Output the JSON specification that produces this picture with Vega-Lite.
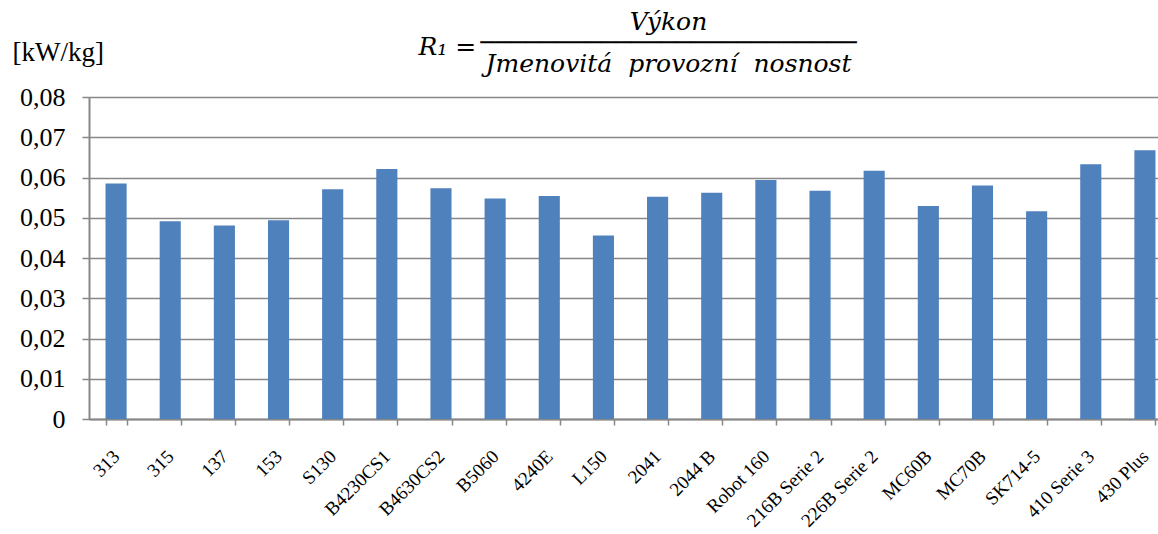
{
  "$schema": "https://vega.github.io/schema/vega-lite/v6.json",
  "autosize": "none",
  "padding": {"left": 89, "top": 97, "right": 0, "bottom": 115},
  "width": 1069,
  "height": 322,
  "background": "white",
  "title": {
    "text": ["Výkon", "─────────────────────────", "Jmenovitá\u00a0 provozní\u00a0 nosnost"],
    "font": "DejaVu Serif",
    "fontStyle": "italic",
    "fontWeight": "normal",
    "fontSize": 25,
    "lineHeight": 21,
    "color": "black",
    "anchor": "middle",
    "frame": "group",
    "baseline": "top",
    "offset": 0,
    "dx": 45,
    "dy": 43
  },
  "data": {
    "values": [
      {"model": "313", "r": 0.0585},
      {"model": "315", "r": 0.0491},
      {"model": "137", "r": 0.0481},
      {"model": "153", "r": 0.0494},
      {"model": "S130", "r": 0.0571},
      {"model": "B4230CS1", "r": 0.0621},
      {"model": "B4630CS2", "r": 0.0573},
      {"model": "B5060", "r": 0.0548},
      {"model": "4240E", "r": 0.0554},
      {"model": "L150", "r": 0.0456},
      {"model": "2041", "r": 0.0552},
      {"model": "2044 B", "r": 0.0562},
      {"model": "Robot 160", "r": 0.0594},
      {"model": "216B Serie 2", "r": 0.0567},
      {"model": "226B Serie 2", "r": 0.0617},
      {"model": "MC60B", "r": 0.0529},
      {"model": "MC70B", "r": 0.0580},
      {"model": "SK714-5", "r": 0.0516},
      {"model": "410 Serie 3", "r": 0.0633},
      {"model": "430 Plus", "r": 0.0668}
    ]
  },
  "mark": {"type": "bar", "color": "#4f81bd"},
  "encoding": {
    "x": {
      "field": "model",
      "type": "nominal",
      "sort": null,
      "scale": {"range": [0, 1083], "paddingInner": 0.61, "paddingOuter": 0.305},
      "axis": {
        "title": "R₁ =",
        "titleFont": "DejaVu Serif",
        "titleFontStyle": "italic",
        "titleFontWeight": "normal",
        "titleFontSize": 25,
        "titleColor": "black",
        "titleAlign": "left",
        "titleBaseline": "alphabetic",
        "titleAngle": 0,
        "titleX": 329,
        "titleY": -365,
        "tickBand": "extent",
        "tickSize": 6,
        "tickColor": "#878787",
        "tickWidth": 1.5,
        "domainColor": "#878787",
        "domainWidth": 2,
        "labelAngle": -45,
        "labelAlign": "right",
        "labelBaseline": "middle",
        "labelFont": "Liberation Serif",
        "labelFontSize": 19,
        "labelColor": "black",
        "labelPadding": 28,
        "labelOverlap": false,
        "labelBound": false,
        "labelFlush": false
      }
    },
    "y": {
      "field": "r",
      "type": "quantitative",
      "scale": {"domain": [0, 0.08], "nice": false, "zero": true},
      "axis": {
        "values": [0, 0.01, 0.02, 0.03, 0.04, 0.05, 0.06, 0.07, 0.08],
        "labelExpr": "datum.value == 0 ? '0' : replace(format(datum.value, '.2f'), '.', ',')",
        "title": "[kW/kg]",
        "titleAngle": 0,
        "titleAlign": "left",
        "titleBaseline": "alphabetic",
        "titleX": -77,
        "titleY": -37,
        "titleFont": "Liberation Serif",
        "titleFontSize": 27,
        "titleFontWeight": "normal",
        "titleColor": "black",
        "labelFont": "Liberation Serif",
        "labelFontSize": 26,
        "labelColor": "black",
        "labelPadding": 17,
        "tickSize": 7,
        "tickColor": "#878787",
        "tickWidth": 1.5,
        "domainColor": "#878787",
        "domainWidth": 2,
        "grid": true,
        "gridColor": "#878787",
        "gridWidth": 1.5
      }
    }
  },
  "config": {
    "view": {"stroke": null}
  }
}
